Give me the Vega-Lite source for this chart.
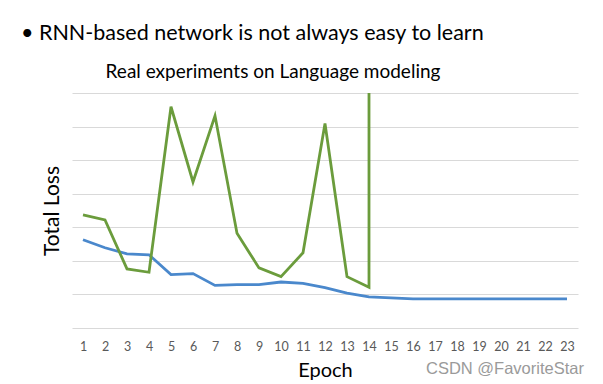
{
  "$schema": "https://vega.github.io/schema/vega-lite/v6.json",
  "width": 506,
  "height": 235,
  "autosize": "none",
  "padding": {"left": 72, "top": 93, "right": 25, "bottom": 56},
  "background": "white",
  "config": {
    "view": {"stroke": null},
    "font": "Lato",
    "axisX": {
      "labelAngle": 0, "labelFontSize": 12.5, "labelColor": "#595959",
      "labelPadding": 12, "ticks": false, "domain": false, "grid": false,
      "titleFontSize": 20, "titleFontWeight": "normal", "titleColor": "#000000", "titlePadding": 8
    },
    "axisY": {
      "labels": false, "ticks": false, "domain": false, "grid": true,
      "gridColor": "#d9d9d9", "gridWidth": 1.2, "tickCount": 7,
      "titleFontSize": 21, "titleFontWeight": "normal", "titleColor": "#000000", "titlePadding": 10
    }
  },
  "layer": [
    {
      "data": {"values": [
        {"epoch": 1, "series": "A", "loss": 2.63, "step": 1},
        {"epoch": 2, "series": "A", "loss": 2.39, "step": 2},
        {"epoch": 3, "series": "A", "loss": 2.21, "step": 3},
        {"epoch": 4, "series": "A", "loss": 2.18, "step": 4},
        {"epoch": 5, "series": "A", "loss": 1.59, "step": 5},
        {"epoch": 6, "series": "A", "loss": 1.62, "step": 6},
        {"epoch": 7, "series": "A", "loss": 1.27, "step": 7},
        {"epoch": 8, "series": "A", "loss": 1.29, "step": 8},
        {"epoch": 9, "series": "A", "loss": 1.29, "step": 9},
        {"epoch": 10, "series": "A", "loss": 1.37, "step": 10},
        {"epoch": 11, "series": "A", "loss": 1.33, "step": 11},
        {"epoch": 12, "series": "A", "loss": 1.2, "step": 12},
        {"epoch": 13, "series": "A", "loss": 1.04, "step": 13},
        {"epoch": 14, "series": "A", "loss": 0.93, "step": 14},
        {"epoch": 15, "series": "A", "loss": 0.9, "step": 15},
        {"epoch": 16, "series": "A", "loss": 0.87, "step": 16},
        {"epoch": 17, "series": "A", "loss": 0.87, "step": 17},
        {"epoch": 18, "series": "A", "loss": 0.87, "step": 18},
        {"epoch": 19, "series": "A", "loss": 0.87, "step": 19},
        {"epoch": 20, "series": "A", "loss": 0.87, "step": 20},
        {"epoch": 21, "series": "A", "loss": 0.87, "step": 21},
        {"epoch": 22, "series": "A", "loss": 0.87, "step": 22},
        {"epoch": 23, "series": "A", "loss": 0.87, "step": 23},
        {"epoch": 1, "series": "B", "loss": 3.37, "step": 1},
        {"epoch": 2, "series": "B", "loss": 3.22, "step": 2},
        {"epoch": 3, "series": "B", "loss": 1.76, "step": 3},
        {"epoch": 4, "series": "B", "loss": 1.66, "step": 4},
        {"epoch": 5, "series": "B", "loss": 6.59, "step": 5},
        {"epoch": 6, "series": "B", "loss": 4.35, "step": 6},
        {"epoch": 7, "series": "B", "loss": 6.32, "step": 7},
        {"epoch": 8, "series": "B", "loss": 2.82, "step": 8},
        {"epoch": 9, "series": "B", "loss": 1.79, "step": 9},
        {"epoch": 10, "series": "B", "loss": 1.53, "step": 10},
        {"epoch": 11, "series": "B", "loss": 2.24, "step": 11},
        {"epoch": 12, "series": "B", "loss": 6.09, "step": 12},
        {"epoch": 13, "series": "B", "loss": 1.53, "step": 13},
        {"epoch": 14, "series": "B", "loss": 1.21, "step": 14},
        {"epoch": 14, "series": "B", "loss": 7.0, "step": 15}
      ]},
      "mark": {"type": "line", "strokeWidth": 2.8, "strokeJoin": "miter"},
      "encoding": {
        "x": {
          "field": "epoch", "type": "ordinal", "title": "Epoch",
          "scale": {"type": "point", "padding": 0.5}
        },
        "y": {
          "field": "loss", "type": "quantitative", "title": "Total Loss",
          "scale": {"domain": [0, 7], "nice": false}
        },
        "color": {
          "field": "series", "type": "nominal",
          "scale": {"domain": ["A", "B"], "range": ["#4a88cc", "#6b9c3c"]},
          "legend": null
        },
        "order": {"field": "step", "type": "quantitative"}
      }
    },
    {
      "data": {"values": [{"label": "Real experiments on Language modeling"}]},
      "mark": {"type": "text", "fontSize": 19, "align": "center", "baseline": "alphabetic", "dx": -8, "dy": -15, "color": "#000000"},
      "encoding": {"text": {"field": "label"}, "x": {"datum": 10, "type": "ordinal"}, "y": {"datum": 7, "type": "quantitative"}}
    },
    {
      "data": {"values": [{"label": "• RNN-based network is not always easy to learn"}]},
      "mark": {"type": "text", "fontSize": 21.5, "align": "left", "baseline": "alphabetic", "dx": -62, "dy": -53, "color": "#000000"},
      "encoding": {"text": {"field": "label"}, "x": {"datum": 1, "type": "ordinal"}, "y": {"datum": 7, "type": "quantitative"}}
    },
    {
      "data": {"values": [{"label": "CSDN @FavoriteStar"}]},
      "mark": {"type": "text", "fontSize": 16.5, "font": "Liberation Sans", "align": "center", "baseline": "middle", "dx": 4, "color": "#9a9a9a"},
      "encoding": {"text": {"field": "label"}, "x": {"datum": 20, "type": "ordinal"}, "y": {"datum": -1.22, "type": "quantitative"}}
    }
  ]
}
